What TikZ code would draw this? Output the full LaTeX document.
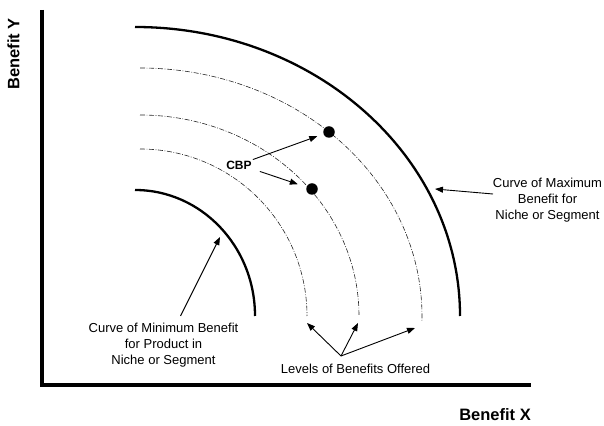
\documentclass[tikz,border=0pt]{standalone}
\usepackage{fontspec}
\setmainfont{Liberation Sans}
\usetikzlibrary{arrows.meta}
\begin{document}
\begin{tikzpicture}[x=1pt,y=1pt,
  axisline/.style={line width=3.5pt, line join=miter},
  boundary/.style={line width=2.3pt},
  level/.style={line width=0.6pt, black!85,
    dash pattern=on 5pt off 1.6pt on 0.8pt off 1.6pt},
  pointer/.style={line width=0.9pt, -{Triangle[length=8pt,width=6pt]}},
  dot/.style={circle, fill=black, inner sep=0pt, minimum size=11.5pt},
  lbl/.style={font=\fontsize{13}{16}\selectfont, align=center, inner sep=0pt},
  axislbl/.style={font=\fontsize{16.5}{19}\selectfont\bfseries, inner sep=0pt}]
\useasboundingbox (0,0) rectangle (604,425);

% axes
\draw[axisline] (42,415) -- (42,40) -- (531,40);
\node[axislbl, anchor=base east] (bx) at (531,4.3) {Benefit X};
\node[axislbl, rotate=90, anchor=base] (by) at (19.3,371) {Benefit Y};

% minimum and maximum benefit curves
\draw[boundary] (135,235) arc[start angle=90, end angle=0, x radius=120, y radius=126];
\draw[boundary] (135,398) arc[start angle=90, end angle=0, x radius=325, y radius=289];

% levels of benefits offered
\draw[level] (140,276) arc[start angle=90, end angle=0, x radius=167, y radius=167];
\draw[level] (140,310) arc[start angle=90, end angle=0, x radius=219, y radius=201];
\draw[level] (140,357) arc[start angle=90, end angle=-1.2, x radius=282, y radius=248];

% competitive benefit positions
\node[dot] (p1) at (329,293) {};
\node[dot] (p2) at (312,236) {};
\node[font=\fontsize{12}{14}\selectfont\bfseries, inner sep=1pt] (cbp) at (239,260) {CBP};
\draw[pointer, shorten >=6.5pt] (cbp.north east) -- (p1);
\draw[pointer, shorten >=9pt] ([shift={(7pt,-1pt)}]cbp.south east) -- (p2);

% curve labels
\node[lbl, anchor=north] (maxlbl) at (547.5,247)
  {Curve of Maximum\\Benefit for\\Niche or Segment};
\coordinate (maxpt) at (435,236);
\draw[pointer] ([shift={(-54.5pt,-16pt)}]maxlbl.north) -- (maxpt);

\node[lbl, anchor=north] (minlbl) at (163.5,102)
  {Curve of Minimum Benefit\\for Product in\\Niche or Segment};
\coordinate (minpt) at (220,188);
\draw[pointer] ([shift={(17pt,7pt)}]minlbl.north) -- (minpt);

\node[lbl, anchor=north] (lvl) at (355.5,61) {Levels of Benefits Offered};
\coordinate (hub) at ([shift={(-14.5pt,8pt)}]lvl.north);
\coordinate (l1) at (307,102);
\coordinate (l2) at (358,102);
\coordinate (l3) at (415,97);
\draw[pointer] (hub) -- (l1);
\draw[pointer] (hub) -- (l2);
\draw[pointer] (hub) -- (l3);
\end{tikzpicture}
\end{document}
